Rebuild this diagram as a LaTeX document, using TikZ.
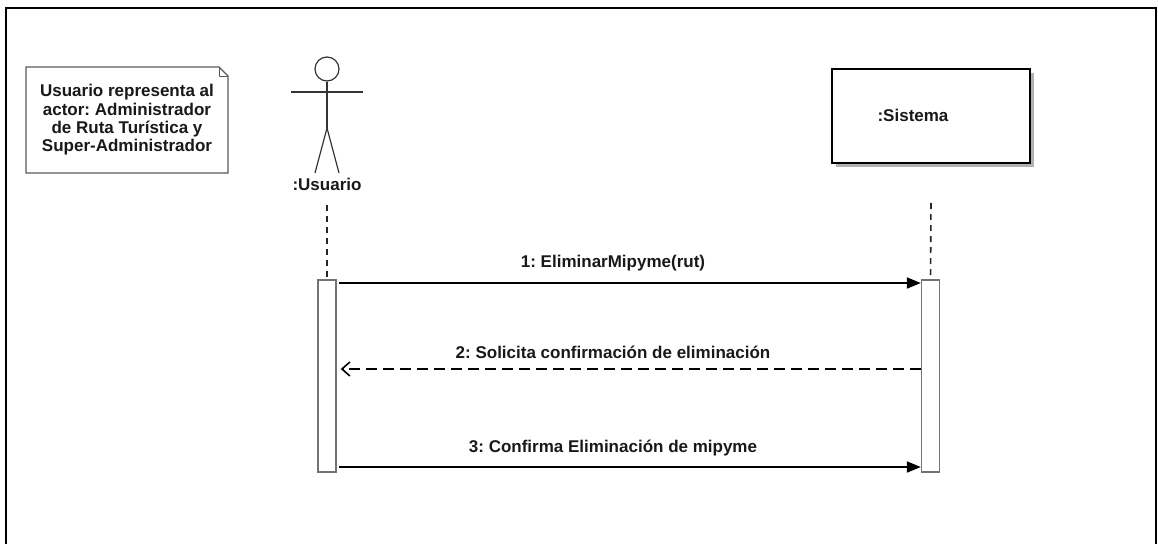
\documentclass[tikz,border=0pt]{standalone}
\usepackage{fontspec}
\setmainfont{Liberation Sans}
\usetikzlibrary{arrows.meta}
\begin{document}
\frenchspacing
\begin{tikzpicture}[x=1pt,y=-1pt,
  lbl/.style={font=\fontsize{17}{18.4}\selectfont\bfseries\frenchspacing, text=black!90, inner sep=0pt, align=center},
  lifeline/.style={line width=1.6pt, dash pattern=on 6pt off 5pt, black!85},
  actbox/.style={draw=black!55, fill=white, line width=1.4pt, minimum width=18pt, minimum height=192pt, inner sep=0pt},
  msg/.style={line width=1.8pt, -{Triangle[length=14pt,width=11pt]}},
  ret/.style={line width=1.7pt, dash pattern=on 11pt off 6pt, -{Straight Barb[length=8pt,width=14pt,line width=1.6pt]}},
  stick/.style={line width=1.2pt, black!80}]
\useasboundingbox (0,0) rectangle (1158,543);
\clip (0,0) rectangle (1158,543);
% frame
\draw[line width=1.8pt] (6,560) -- (6,8) -- (1156,8) -- (1156,560);
% note
\draw[line width=1.2pt, draw=black!65, fill=white] (26,67) -- (219,67) -- (228,76) -- (228,173) -- (26,173) -- cycle;
\draw[line width=1pt, draw=black!65] (219,67) -- (219,76) -- (228,76);
\node[lbl] (note) at (127,120) {Usuario representa al\\actor: Administrador\\de Ruta Turística y\\Super-Administrador};
% actor
\node[draw=black!80, line width=1.2pt, circle, minimum size=24pt, inner sep=0pt] (head) at (327,69) {};
\coordinate (hip) at (327,128);
\draw[stick] (head.south) -- (hip);
\draw[stick] (291,92) coordinate (armL) -- (363,92) coordinate (armR);
\draw[stick] (hip) -- (315,173);
\draw[stick] (hip) -- (339,173);
\node[lbl] (usr) at (327,184) {:Usuario};
% system
\fill[black!30] (836,73) rectangle (1034,167);
\node[draw, fill=white, line width=1.8pt, minimum width=198pt, minimum height=94pt, inner sep=0pt] (sis) at (931,116) {};
\node[lbl] (sisL) at (913,115) {:Sistema};
% activation boxes
\node[actbox] (actU) at (327,376) {};
\node[actbox] (actS) at (930.5,376) {};
% lifelines
\coordinate (lu) at (327,205);
\coordinate (ls) at (931,203);
\draw[lifeline] (lu) -- (actU.north);
\draw[lifeline] (ls) -- (actS.north);
% messages
\coordinate (m1) at (0,283);
\coordinate (m2) at (0,369);
\coordinate (m3) at (0,467);
\draw[msg] ([xshift=2pt]actU.east |- m1) -- (actS.west |- m1);
\draw[ret] (actS.west |- m2) -- ([xshift=4pt]actU.east |- m2);
\draw[msg] ([xshift=2pt]actU.east |- m3) -- (actS.west |- m3);
\node[lbl] (l1) at (613,263) {1: EliminarMipyme(rut)};
\node[lbl] (l2) at (613,352) {2: Solicita confirmación de eliminación};
\node[lbl] (l3) at (613,448) {3: Confirma Eliminación de mipyme};
\end{tikzpicture}
\end{document}
